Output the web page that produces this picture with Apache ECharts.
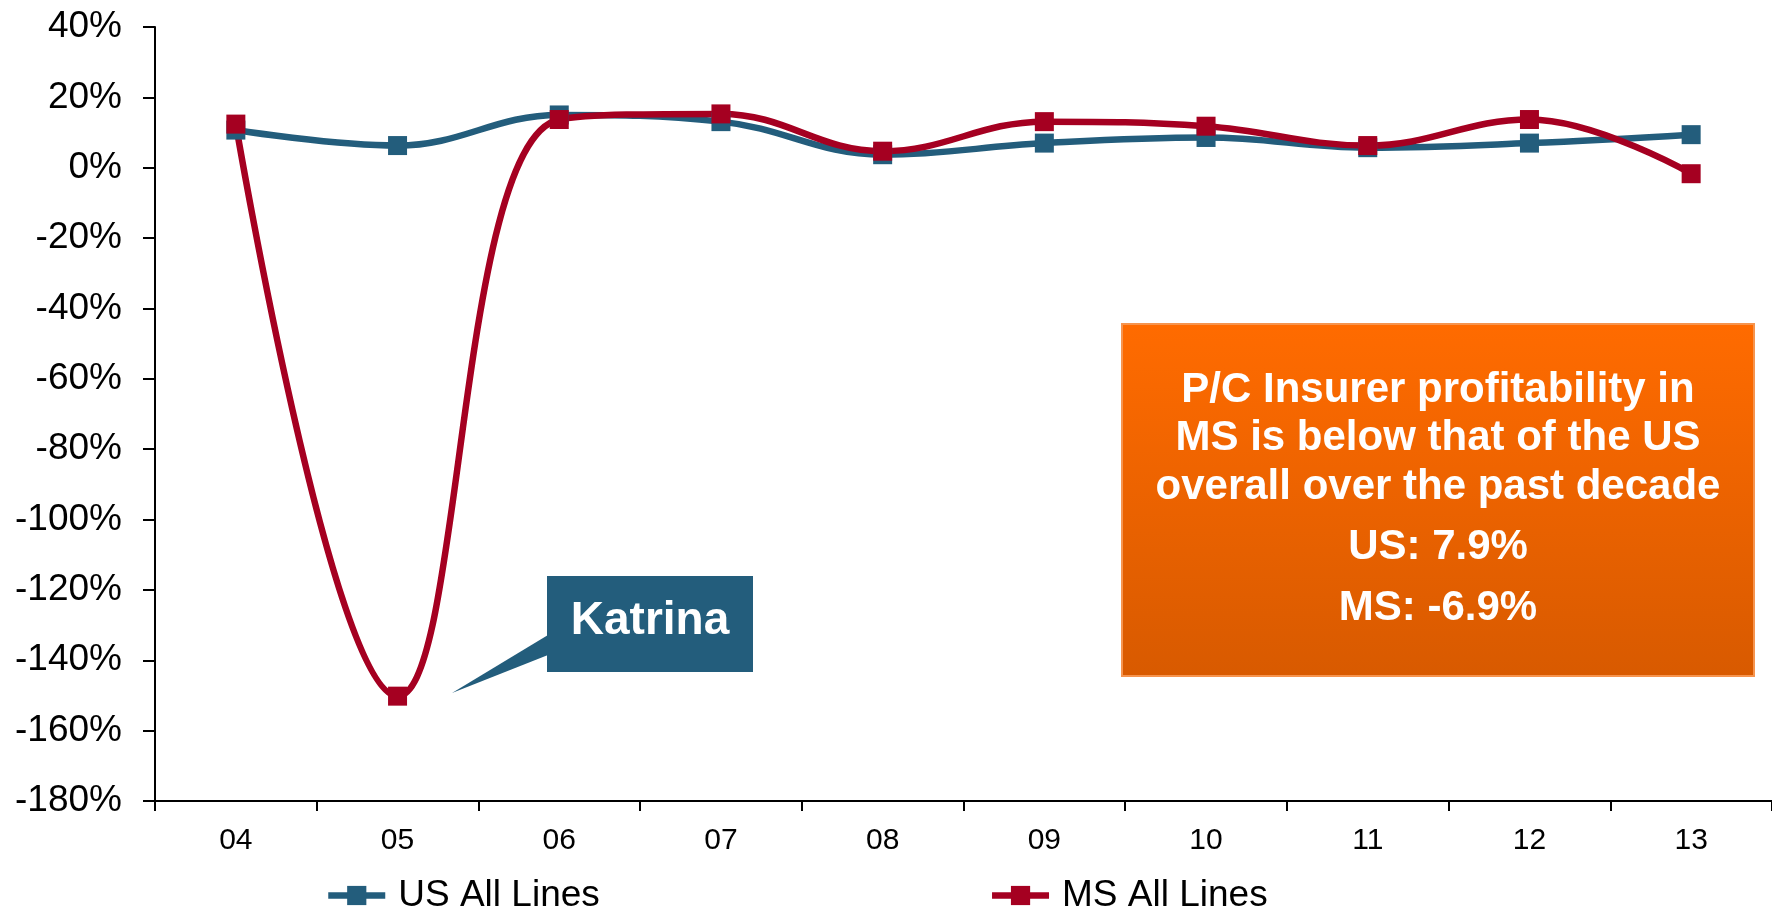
<!DOCTYPE html>
<html>
<head>
<meta charset="utf-8">
<script src="https://cdn.jsdelivr.net/npm/echarts@6/dist/echarts.min.js"></script>
<style>
  html, body { margin: 0; padding: 0; background: #ffffff; }
  #chart { width: 1772px; height: 910px; }
</style>
</head>
<body>
<div id="chart"></div>
<script>
// Years on the category axis
const years = ['04', '05', '06', '07', '08', '09', '10', '11', '12', '13'];
// Return on net worth, percent
const usAllLines = [10.7, 6.3, 15.0, 13.1, 3.7, 7.0, 8.6, 5.7, 7.0, 9.4];
const msAllLines = [12.4, -150.2, 13.7, 15.3, 4.7, 13.1, 11.8, 6.3, 13.7, -1.7];
const seriesNames = ['US All Lines', 'MS All Lines'];
// Value axis range and step
const yMin = -180;
const yMax = 40;
const yStep = 20;
// Callout and note texts
const calloutText = 'Katrina';
const noteLines = ['P/C Insurer profitability in', 'MS is below that of the US', 'overall over the past decade'];
const averageLines = ['US: 7.9%', 'MS: -6.9%'];

const BLUE = '#235D7C';
const RED = '#A50021';
const FONT = '"Liberation Sans", Arial, Helvetica, sans-serif';

const chart = echarts.init(document.getElementById('chart'));

// Note box geometry
const box = { x: 1122, y: 324, w: 632, h: 352 };
const boxCx = box.x + box.w / 2;
const noteY = [390, 438.5, 487.5];
const avgY = [547.5, 608.5];

const graphics = [
  // Katrina callout pointer + box
  {
    type: 'polygon', z: 100,
    shape: { points: [[548, 635], [548, 655], [452, 693]] },
    style: { fill: BLUE }
  },
  {
    type: 'rect', z: 100,
    shape: { x: 547, y: 576, width: 206, height: 96 },
    style: { fill: BLUE }
  },
  {
    type: 'text', z: 101,
    x: 650, y: 621,
    style: {
      text: calloutText, fill: '#ffffff', font: 'bold 46px ' + FONT,
      textAlign: 'center', textVerticalAlign: 'middle'
    }
  },
  // Orange note box
  {
    type: 'rect', z: 100,
    shape: { x: box.x, y: box.y, width: box.w, height: box.h },
    style: {
      fill: {
        type: 'linear', x: 0, y: 0, x2: 0, y2: 1,
        colorStops: [{ offset: 0, color: '#FF6B00' }, { offset: 1, color: '#D85A00' }]
      },
      stroke: '#F6944E', lineWidth: 2
    }
  }
];
noteLines.forEach((t, i) => {
  graphics.push({
    type: 'text', z: 101, x: boxCx, y: noteY[i],
    style: { text: t, fill: '#ffffff', font: 'bold 42px ' + FONT, textAlign: 'center', textVerticalAlign: 'middle' }
  });
});
averageLines.forEach((t, i) => {
  graphics.push({
    type: 'text', z: 101, x: boxCx, y: avgY[i],
    style: { text: t, fill: '#ffffff', font: 'bold 42px ' + FONT, textAlign: 'center', textVerticalAlign: 'middle' }
  });
});

const option = {
  animation: false,
  backgroundColor: '#ffffff',
  textStyle: { fontFamily: FONT },
  grid: { left: 155, right: -6, top: 27, bottom: 109, containLabel: false },
  legend: {
    left: 325, top: 877, padding: 0,
    itemWidth: 57, itemHeight: 24, itemGap: 389,
    lineStyle: { width: 6.5 },
    textStyle: { fontSize: 37, color: '#000000', fontFamily: FONT, padding: [0, 0, 0, 8] },
    data: seriesNames
  },
  xAxis: {
    type: 'category',
    data: years,
    boundaryGap: true,
    axisLine: { onZero: false, lineStyle: { color: '#000000', width: 2 } },
    axisTick: { show: true, length: 10, lineStyle: { color: '#000000', width: 2 } },
    axisLabel: { fontSize: 30, color: '#000000', margin: 25, fontFamily: FONT },
    splitLine: { show: false }
  },
  yAxis: {
    type: 'value',
    min: yMin, max: yMax, interval: yStep,
    axisLine: { show: true, lineStyle: { color: '#000000', width: 2 } },
    axisTick: { show: true, length: 12, lineStyle: { color: '#000000', width: 2 } },
    axisLabel: { fontSize: 37, color: '#000000', margin: 33, formatter: '{value}%', fontFamily: FONT },
    splitLine: { show: false }
  },
  series: [
    {
      name: seriesNames[0], type: 'line', data: usAllLines, smooth: 0.4,
      symbol: 'rect', symbolSize: 19,
      itemStyle: { color: BLUE }, lineStyle: { color: BLUE, width: 6.5 }
    },
    {
      name: seriesNames[1], type: 'line', data: msAllLines, smooth: 0.4,
      symbol: 'rect', symbolSize: 19,
      itemStyle: { color: RED }, lineStyle: { color: RED, width: 6.5 }
    }
  ],
  graphic: graphics
};

chart.setOption(option);
</script>
</body>
</html>
